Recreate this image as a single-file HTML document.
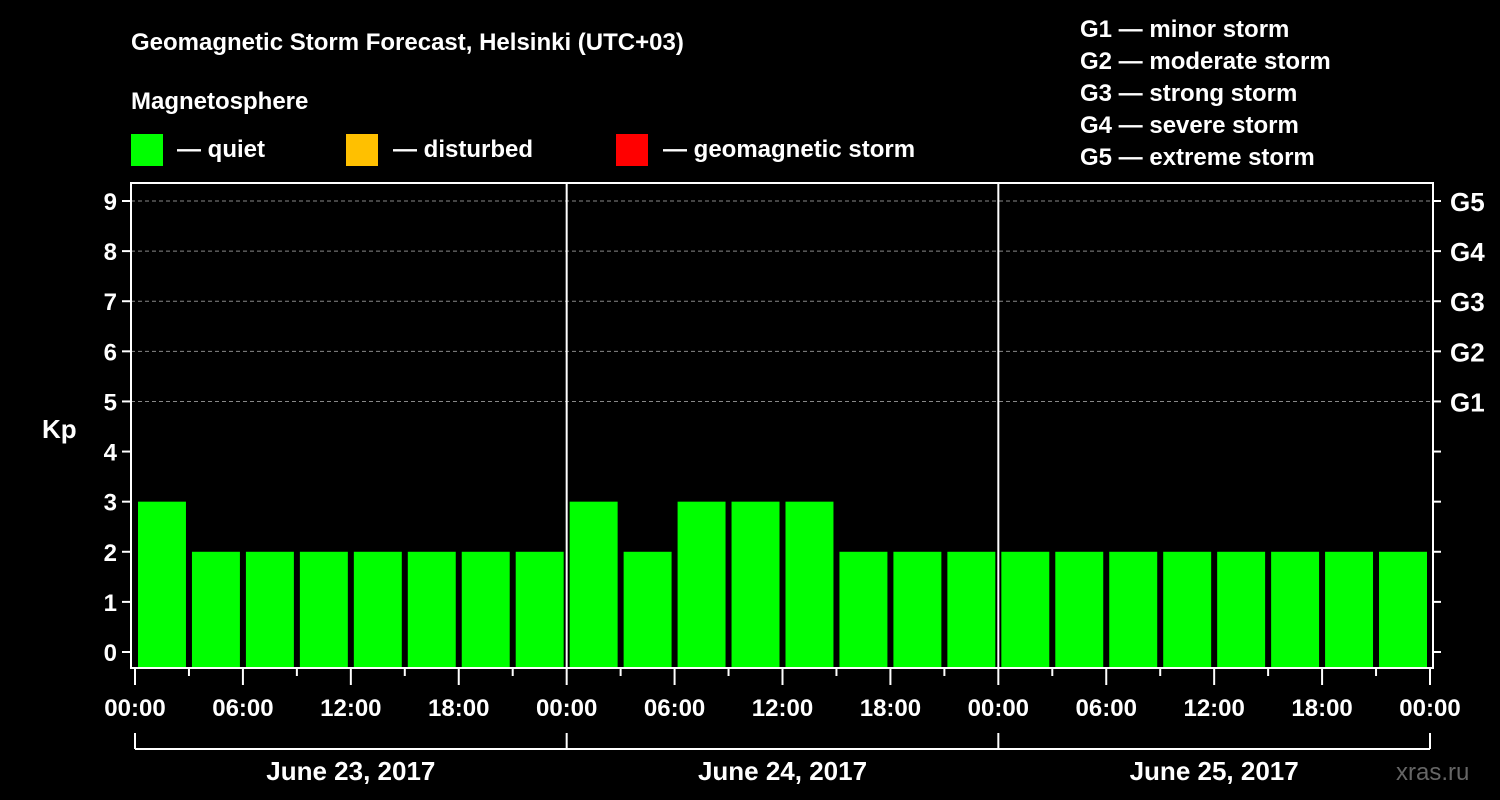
<!DOCTYPE html>
<html><head><meta charset="utf-8"><style>
html,body{margin:0;padding:0;background:#000;}
svg{display:block;font-family:"Liberation Sans",Arial,sans-serif;font-weight:bold;}
</style></head><body>
<svg id="chart" width="1500" height="800" viewBox="0 0 1500 800">
<rect x="0" y="0" width="1500" height="800" fill="#000"/>
<text x="131" y="50" fill="#fff" font-size="24">Geomagnetic Storm Forecast, Helsinki (UTC+03)</text>
<text x="131" y="109" fill="#fff" font-size="24">Magnetosphere</text>
<g><rect x="131" y="134" width="32" height="32" fill="#00ff00"/><text x="177" y="157" fill="#fff" font-size="24">— quiet</text></g>
<g><rect x="346" y="134" width="32" height="32" fill="#ffc000"/><text x="393" y="157" fill="#fff" font-size="24">— disturbed</text></g>
<g><rect x="616" y="134" width="32" height="32" fill="#ff0000"/><text x="663" y="157" fill="#fff" font-size="24">— geomagnetic storm</text></g>
<g fill="#fff" font-size="24">
<text x="1080" y="37">G1 — minor storm</text>
<text x="1080" y="69">G2 — moderate storm</text>
<text x="1080" y="101">G3 — strong storm</text>
<text x="1080" y="133">G4 — severe storm</text>
<text x="1080" y="165">G5 — extreme storm</text>
</g>
<text x="42" y="438" fill="#fff" font-size="26">Kp</text>
<text x="1396" y="780" fill="#666" font-size="24" font-weight="normal">xras.ru</text>
<g id="plot"></g>
</svg>
<script>
const days = ["June 23, 2017","June 24, 2017","June 25, 2017"];
const kpValues = [3,2,2,2,2,2,2,2, 3,2,3,3,3,2,2,2, 2,2,2,2,2,2,2,2];
const kpTicks = [0,1,2,3,4,5,6,7,8,9];
const gLabels = ["G1","G2","G3","G4","G5"];
const gLevels = [5,6,7,8,9];
const hourLabels = ["00:00","06:00","12:00","18:00"];

const NS="http://www.w3.org/2000/svg";
const plot=document.getElementById('plot');
const L=131,R=1433,T=183,B=668,X0=135,X1=1430;
const y=v=>652-(652-201)*v/9;
const x=h=>X0+(X1-X0)*h/(days.length*24);
function mk(tag,attrs,parent){const e=document.createElementNS(NS,tag);for(const k in attrs)e.setAttribute(k,attrs[k]);(parent||plot).appendChild(e);return e;}
// grid
gLevels.forEach(v=>{const g=mk('line',{x1:L,x2:R,y1:y(v),y2:y(v),stroke:'#888','stroke-dasharray':'4,3','stroke-width':1});

});
// bars
kpValues.forEach((v,i)=>{const col=v>=5?'#ff0000':(v>=4?'#ffc000':'#00ff00');
const b=mk('rect',{x:x(i*3)+3,y:y(v),width:x(3)-x(0)-6,height:B-y(v),fill:col});

});
// day separators
for(let d=1;d<days.length;d++){const s=mk('line',{x1:x(d*24),x2:x(d*24),y1:T,y2:B,stroke:'#fff','stroke-width':2});

}
// frame
const f=mk('rect',{x:L,y:T,width:R-L,height:B-T,fill:'none',stroke:'#fff','stroke-width':2});


// y ticks
kpTicks.forEach(v=>{
mk('line',{x1:L-9,x2:L,y1:y(v),y2:y(v),stroke:'#fff','stroke-width':2});
mk('line',{x1:R,x2:R+8,y1:y(v),y2:y(v),stroke:'#fff','stroke-width':2});
const t=mk('text',{x:L-14,y:y(v)+9,fill:'#fff','font-size':24,'text-anchor':'end'});t.textContent=v;

});
gLabels.forEach((g,i)=>{const t=mk('text',{x:1450,y:y(gLevels[i])+10,fill:'#fff','font-size':26});t.textContent=g;

});
// x ticks
for(let h=0;h<=days.length*24;h+=3){const major=h%6===0;
mk('line',{x1:x(h),x2:x(h),y1:B,y2:B+(major?17:8),stroke:'#fff','stroke-width':2});
if(major){const t=mk('text',{x:x(h),y:716,fill:'#fff','font-size':24,'text-anchor':'middle'});t.textContent=hourLabels[(h/6)%4];

}}
// day brackets
mk('line',{x1:x(0),x2:x(days.length*24),y1:749,y2:749,stroke:'#fff','stroke-width':2});
for(let d=0;d<=days.length;d++)mk('line',{x1:x(d*24),x2:x(d*24),y1:733,y2:749,stroke:'#fff','stroke-width':2});
days.forEach((d,i)=>{const t=mk('text',{x:x(i*24+12),y:780,fill:'#fff','font-size':26,'text-anchor':'middle'});t.textContent=d;

});
</script>
</body></html>
